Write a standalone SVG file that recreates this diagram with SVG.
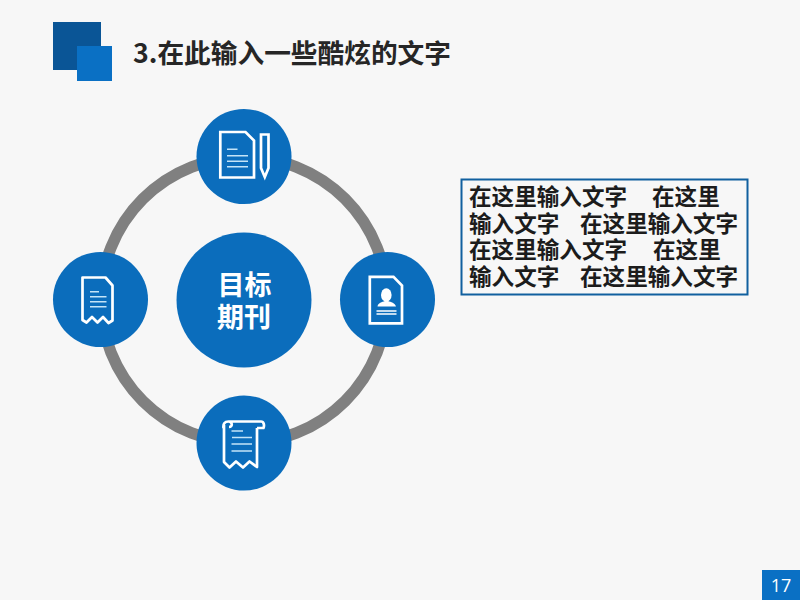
<svg xmlns="http://www.w3.org/2000/svg" width="800" height="600" viewBox="0 0 800 600">
<style>
.cjk{font-family:"Noto Sans CJK SC","Noto Sans",sans-serif}
.node{fill:#0b6dbc}
.ic{fill:none;stroke:#fff;stroke-width:2.7;stroke-linejoin:miter}
.wv{fill:none;stroke:#fff;stroke-width:2.7;stroke-linejoin:round}
.ln{fill:none;stroke:#c4e4f7;stroke-width:1.6}
.body{font-size:22.6px;font-weight:700;fill:#1c1c1c}
.cap{font-size:27px;font-weight:700;fill:#fff;text-anchor:middle}
</style>
<rect width="800" height="600" fill="#f7f7f7"/>
<g id="header">
<rect x="53" y="22" width="48" height="48" fill="#0a5596"/>
<rect x="77" y="46" width="35" height="35" fill="#0a70c4"/>
<text x="133" y="63" font-size="26.700" font-weight="700" fill="#262626" class="cjk">3.在此输入一些酷炫的文字</text>
</g>
<g id="connectors">
<circle cx="244" cy="300" r="143" fill="none" stroke="#808080" stroke-width="11.500"/>
</g>
<g id="center">
<circle class="node" cx="244" cy="300" r="67.500"/>
<text class="cap cjk" x="244.500" y="295">目标</text>
<text class="cap cjk" x="244" y="326.500">期刊</text>
</g>
<g id="node-top">
<circle class="node" cx="244" cy="156.500" r="47.500"/>
<path class="ic" d="M220.300 132H245.500L254 140.500V177.500H220.300Z"/>
<path class="ln" d="M227 149.300H237.500M227 155.700H248M227 161.300H248M227 166.700H248"/>
<path class="ic" d="M261 134.500H268.500V168L264.800 177L261 168Z"/>
</g>
<g id="node-left">
<circle class="node" cx="100.500" cy="299.500" r="47.500"/>
<path class="wv" d="M82.500 277.500H105.500L112.500 285.500V320.500L108.500 323L103 317L97.500 322.500L92 317L86.500 322.500L82.500 320Z"/>
<path class="ln" d="M90 291.700H99M90 296.700H106.500M90 301.700H106.500M90 306.700H106.500"/>
</g>
<g id="node-right">
<circle class="node" cx="387.500" cy="299.500" r="47.500"/>
<path class="ic" d="M369.800 276.800H393.500L402 285.500V323.300H369.800Z"/>
<ellipse cx="386.300" cy="295" rx="5.300" ry="6.700" fill="#fff"/>
<path d="M377.500 306.500C378 303 382 302 385 301H388C391 302 395 303 396 306.500Z" fill="#fff"/>
<path d="M376.500 311H396.500M376.500 314H396.500" fill="none" stroke="#fff" stroke-width="1.300"/>
</g>
<g id="node-bottom">
<circle class="node" cx="244" cy="443" r="47.500"/>
<path class="wv" d="M224 425V462L229.500 467.500L236 461.500L243 467.500L249.500 461.500L257 467V428M228.500 421.500C224.500 421.500 223 424 223.500 428M228.500 421.500H261C264 421.500 264.500 425.500 263.500 428H257M228.500 421.500C232.500 421.500 233 427 229 427"/>
<path class="ln" d="M232 437.500H252M231.500 444H252M231.500 451H252M231.500 431H243"/>
</g>
<g id="textbox">
<rect x="461.500" y="179.500" width="286" height="115" fill="#f7f7f7" stroke="#11609f" stroke-width="2"/>
<g class="body cjk">
<text x="469" y="205">在这里输入文字</text>
<text x="652" y="205">在这里</text>
<text x="469" y="231.500">输入文字</text>
<text x="580" y="231.500">在这里输入文字</text>
<text x="469" y="258">在这里输入文字</text>
<text x="653" y="258">在这里</text>
<text x="469" y="285">输入文字</text>
<text x="580" y="285">在这里输入文字</text>
</g>
</g>
<g id="page">
<rect x="762" y="570" width="38" height="30" fill="#0a70c4"/>
<text x="781" y="592" font-size="18" fill="#fff" text-anchor="middle" font-family="'Open Sans',sans-serif">17</text>
</g>
</svg>
